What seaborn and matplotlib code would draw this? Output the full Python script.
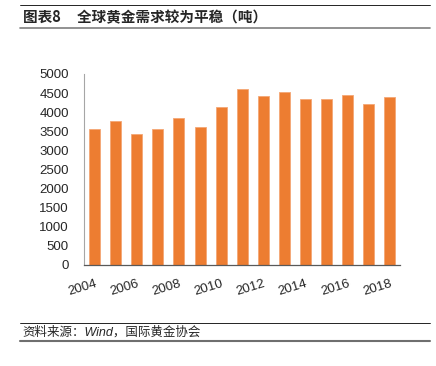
import matplotlib
matplotlib.use("Agg")
import matplotlib.pyplot as plt
import numpy as np
import pandas as pd
import seaborn as sns
from matplotlib.lines import Line2D

years = [str(y) for y in range(2004, 2019)]
demand = [3555, 3772, 3432, 3571, 3843, 3623, 4130, 4612, 4418, 4538, 4339, 4347, 4452, 4208, 4391]
y_ticks = list(range(0, 5001, 500))

title_text = "图表8     全球黄金需求较为平稳（吨）"
source_text = "资料来源：Wind，国际黄金协会"

sns.set_theme(style="white")
plt.rcParams["font.family"] = ["Liberation Sans", "Noto Sans CJK SC", "DejaVu Sans"]

df = pd.DataFrame({"year": years, "demand": demand})

fig = plt.figure(figsize=(4.36, 3.66), dpi=100)
ax = fig.add_axes([0.193, 0.276, 0.725, 0.522])

sns.barplot(data=df, x="year", y="demand", color="#ED7D31", width=0.52,
            saturation=1, edgecolor="#F4A775", linewidth=0.6, ax=ax)

ax.set_xlim(-0.5, len(years) - 0.5)
ax.set_ylim(0, 5000)
ax.set_yticks(y_ticks)
ax.set_xlabel("")
ax.set_ylabel("")

ax.set_xticks(range(0, len(years), 2))
ax.set_xticklabels(years[::2], rotation=17, ha="right", rotation_mode="anchor", fontsize=9.5)
ax.set_xticks(np.arange(-0.5, len(years), 1), minor=True)
ax.tick_params(axis="x", which="major", length=0, pad=9)
ax.tick_params(axis="x", which="minor", length=3, color="#7f7f7f", width=0.8, direction="in")
ax.tick_params(axis="y", labelsize=9.5, length=3, color="#a6a6a6", width=0.8, direction="in", pad=11)
for lbl in ax.get_xticklabels():
    lbl.set_x(lbl.get_position()[0])

for s in ["top", "right"]:
    ax.spines[s].set_visible(False)
ax.spines["bottom"].set_color("#595959")
ax.spines["bottom"].set_linewidth(0.9)
ax.spines["left"].set_color("#a6a6a6")
ax.spines["left"].set_linewidth(0.8)

# header and footer rules
fig.add_artist(Line2D([0.046, 0.986], [0.986, 0.986], color="black", lw=0.6, transform=fig.transFigure))
fig.add_artist(Line2D([0.046, 0.986], [0.924, 0.924], color="#7f7f7f", lw=1.2, transform=fig.transFigure))
fig.text(0.052, 0.953, title_text, fontsize=10.5, fontweight="bold", va="center",
         family=["Noto Sans CJK SC", "DejaVu Sans"])

fig.add_artist(Line2D([0.046, 0.986], [0.117, 0.117], color="black", lw=0.6, transform=fig.transFigure))
fig.add_artist(Line2D([0.046, 0.986], [0.068, 0.068], color="#6f6f6f", lw=1.5, transform=fig.transFigure))
fig.text(0.052, 0.092, source_text, fontsize=9, va="center", style="italic",
         family=["Liberation Sans", "Noto Sans CJK SC"])

fig.savefig("out.png", dpi=100)
